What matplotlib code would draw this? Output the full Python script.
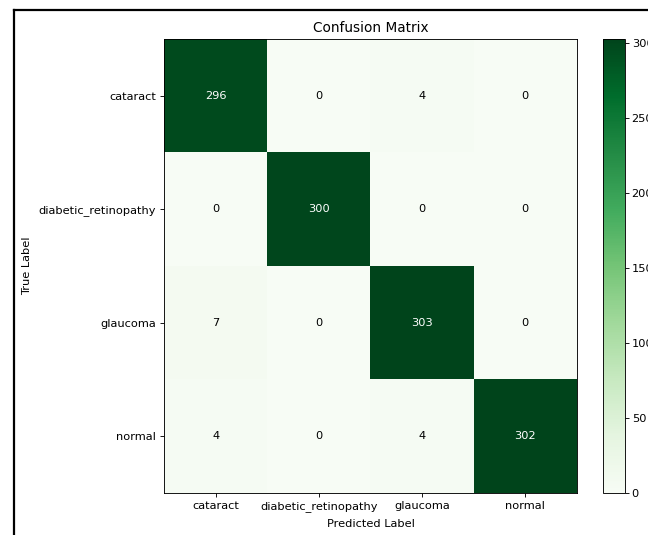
import numpy as np
import matplotlib
matplotlib.use("Agg")
import matplotlib.pyplot as plt
from matplotlib.lines import Line2D

classes = ["cataract", "diabetic_retinopathy", "glaucoma", "normal"]
cm = np.array([
    [296, 0, 4, 0],
    [0, 300, 0, 0],
    [7, 0, 303, 0],
    [4, 0, 4, 302],
])
cbar_ticks = [0, 50, 100, 150, 200, 250, 300]

plt.rcParams["font.family"] = ["DejaVu Sans"]
s = 0.8  # the reference is a scaled-down screenshot
plt.rcParams.update({
    "xtick.major.size": 3.5 * s, "ytick.major.size": 3.5 * s,
    "xtick.major.width": 0.8 * s, "ytick.major.width": 0.8 * s,
    "xtick.major.pad": 3.5 * s + 0.5, "ytick.major.pad": 3.5 * s,
    "axes.linewidth": 0.8 * s, "axes.titlepad": 6 * s,
})

W, H = 648, 535
fig = plt.figure(figsize=(W / 100, H / 100), dpi=100)

def rect(x0, y0, x1, y1):
    return [x0 / W, 1 - y1 / H, (x1 - x0) / W, (y1 - y0) / H]

ax = fig.add_axes(rect(164, 39, 577, 493))
cax = fig.add_axes(rect(603, 39, 625, 493))

im = ax.imshow(cm, cmap="Greens", aspect="auto", interpolation="nearest",
               vmin=0, vmax=cm.max())
cb = fig.colorbar(im, cax=cax, ticks=cbar_ticks)
cb.ax.tick_params(labelsize=8.2, pad=2)
cb.outline.set_linewidth(0.8 * s)

ax.set_xticks(range(len(classes)))
ax.set_xticklabels(classes, fontsize=8.2)
ax.set_yticks(range(len(classes)))
ax.set_yticklabels(classes, fontsize=8.2)
ax.set_xlabel("Predicted Label", fontsize=8.2, labelpad=4.5)
ax.set_ylabel("True Label", fontsize=8.2, labelpad=4.5)
ax.set_title("Confusion Matrix", fontsize=9.8)

thresh = cm.max() / 2
for i in range(cm.shape[0]):
    for j in range(cm.shape[1]):
        ax.text(j, i, str(cm[i, j]), ha="center", va="center", fontsize=8.2,
                color="white" if cm[i, j] > thresh else "black")

# screenshot border (left and top)
fig.add_artist(Line2D([13.5 / W, 13.5 / W], [0, 1 - 10 / H], color="black", lw=1.6,
                      transform=fig.transFigure))
fig.add_artist(Line2D([13.5 / W, 1], [1 - 10 / H, 1 - 10 / H], color="black", lw=1.6,
                      transform=fig.transFigure))

fig.savefig("out.png", dpi=100)
